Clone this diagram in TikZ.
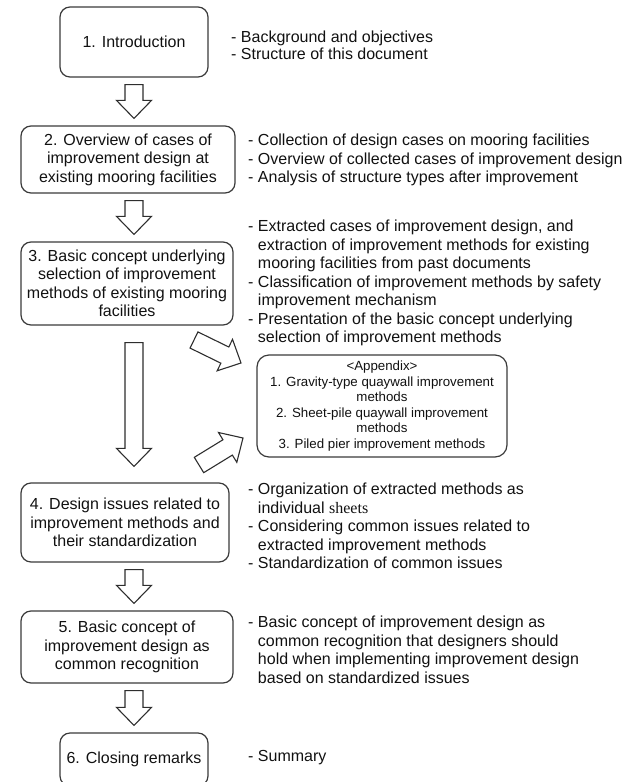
\documentclass[tikz,border=0pt]{standalone}
\usepackage{fontspec}
\setmainfont{Liberation Sans}
\newfontfamily\sheetfont{Liberation Serif}
\usetikzlibrary{calc}
\definecolor{boxline}{HTML}{3A3A3A}
\definecolor{arrowline}{HTML}{2E2E2E}
\definecolor{textblack}{HTML}{111111}
\tikzset{
  every node/.style={text=textblack},
  box/.style={rectangle, rounded corners=10pt, draw=boxline, line width=1.2pt,
    align=center, inner sep=0pt, font=\fontsize{16}{18.5}\selectfont},
  appbox/.style={box, rounded corners=12pt,
    font=\fontsize{13.3}{15.5}\selectfont},
  note/.style={anchor=west, align=left, inner sep=0pt,
    font=\fontsize{16}{18.5}\selectfont},
  blockarrow/.style={draw=arrowline, fill=white, line width=1.1pt},
}
% hollow block arrow from tail #1 to tip #2
\newcommand{\blockarrow}[2]{%
  \coordinate (hb) at ($(#2)!18pt!(#1)$);
  \draw[blockarrow] ($(#1)!9pt!90:(#2)$) -- ($(hb)!9pt!90:(#2)$)
    -- ($(hb)!17.5pt!90:(#2)$) -- (#2) -- ($(hb)!17.5pt!-90:(#2)$)
    -- ($(hb)!9pt!-90:(#2)$) -- ($(#1)!9pt!-90:(#2)$) -- cycle;}
\newcommand{\contline}{\hphantom{- }}

\begin{document}
\begin{tikzpicture}[x=1pt,y=-1pt]
\useasboundingbox (0,0) rectangle (635,782);

% ---- Chapters ------------------------------------------------------------
\node[box, minimum width=148pt, minimum height=70pt] (intro) at (134,42)
  {1. Introduction};
\node[box, minimum width=214pt, minimum height=67pt] (ovw) at (128,159.5)
  {2. Overview of cases of\\ improvement design at\\ existing mooring facilities};
\node[box, minimum width=212pt, minimum height=83pt] (sel) at (127,283.5)
  {3. Basic concept underlying\\ selection of improvement\\
   methods of existing mooring\\ facilities};
\node[box, minimum width=208pt, minimum height=79pt] (iss) at (125,522.5)
  {4. Design issues related to\\ improvement methods and\\ their standardization};
\node[box, minimum width=212pt, minimum height=72pt] (cpt) at (127,647)
  {5. Basic concept of\\ improvement design as\\ common recognition};
% runs off the lower edge of the page
\node[box, minimum width=148pt, minimum height=53pt] (close) at (134,759.5)
  {6. Closing remarks};

% ---- Appendix ------------------------------------------------------------
\node[appbox, minimum width=250pt, minimum height=102pt] (app) at (382,406)
  {<Appendix>\\ 1. Gravity-type quaywall improvement\\ methods\\
   2. Sheet-pile quaywall improvement\\ methods\\
   3. Piled pier improvement methods};

% ---- Notes ---------------------------------------------------------------
\node[note, font=\fontsize{16}{17}\selectfont] (d_intro) at (231,45)
  {- Background and objectives\\ - Structure of this document};
\node[note] (d_ovw) at (248,160)
  {- Collection of design cases on mooring facilities\\
   - Overview of collected cases of improvement design\\
   - Analysis of structure types after improvement};
\node[note] (d_sel) at (248,283)
  {- Extracted cases of improvement design, and\\
   \contline extraction of improvement methods for existing\\
   \contline mooring facilities from past documents\\
   - Classification of improvement methods by safety\\
   \contline improvement mechanism\\
   - Presentation of the basic concept underlying\\
   \contline selection of improvement methods};
\node[note] (d_iss) at (248,526)
  {- Organization of extracted methods as\\
   \contline individual {\sheetfont sheets}\\
   - Considering common issues related to\\
   \contline extracted improvement methods\\
   - Standardization of common issues};
\node[note] (d_cpt) at (248,650)
  {- Basic concept of improvement design as\\
   \contline common recognition that designers should\\
   \contline hold when implementing improvement design\\
   \contline based on standardized issues};
\node[note] (d_close) at (248,758) {- Summary};

% ---- Block arrows --------------------------------------------------------
\foreach \a/\b in {intro/ovw,ovw/sel,iss/cpt,cpt/close} {
  \coordinate (s) at ($(intro.south |- \a.south)+(0,7)$);
  \coordinate (e) at ($(intro.south |- \b.north)+(0,-7)$);
  \blockarrow{s}{e}
}
\coordinate (s3) at ($(intro.south |- sel.south)+(0,17)$);
\coordinate (e3) at ($(intro.south |- iss.north)+(0,-16)$);
\blockarrow{s3}{e3}

% into and out of the appendix
\coordinate (tA) at (194,340);
\coordinate (hA) at (241,363);
\blockarrow{tA}{hA}
\coordinate (tB) at (199,465);
\coordinate (hB) at (243,438);
\blockarrow{tB}{hB}

\end{tikzpicture}
\end{document}
